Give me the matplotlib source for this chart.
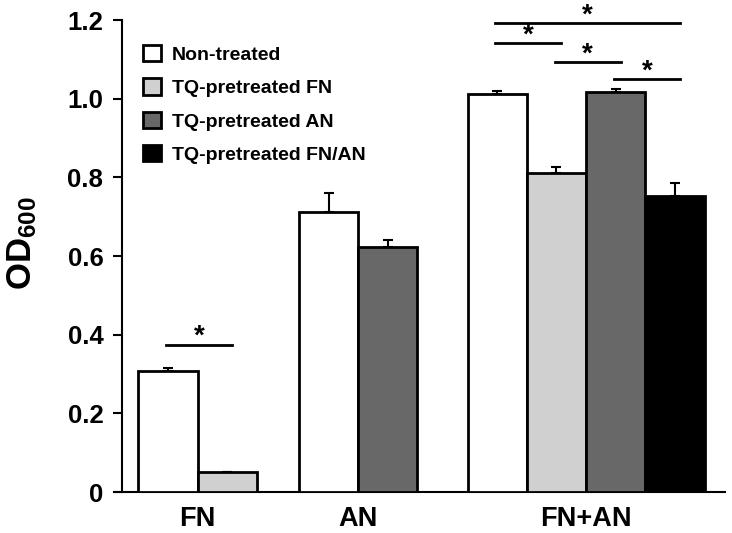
import matplotlib
matplotlib.use("Agg")
import matplotlib.pyplot as plt
from matplotlib.patches import Patch

plt.rcParams['font.family'] = ['Liberation Sans', 'DejaVu Sans']
plt.rcParams['font.weight'] = 'bold'
plt.rcParams['mathtext.fontset'] = 'custom'
plt.rcParams['mathtext.rm'] = 'Liberation Sans:bold'
plt.rcParams['mathtext.bf'] = 'Liberation Sans:bold'
plt.rcParams['mathtext.it'] = 'Liberation Sans:bold'

groups = ["FN", "AN", "FN+AN"]
seriesNames = ["Non-treated", "TQ-pretreated FN", "TQ-pretreated AN", "TQ-pretreated FN/AN"]
seriesColors = ["#ffffff", "#d0d0d0", "#686868", "#000000"]

# None = series not measured in that group
nonTreated = [0.308, 0.713, 1.013]
tqFN = [0.051, None, 0.811]
tqAN = [None, 0.624, 1.017]
tqFNAN = [None, None, 0.752]

nonTreatedErr = [0.007, 0.046, 0.006]
tqFNErr = [0.0, None, 0.015]
tqANErr = [None, 0.016, 0.007]
tqFNANErr = [None, None, 0.033]

# significance brackets: group, first series, second series, height
sigPairs = [
    (0, 0, 1, 0.375),
    (2, 0, 3, 1.193),
    (2, 0, 1, 1.142),
    (2, 1, 2, 1.094),
    (2, 2, 3, 1.049),
]

groupCenters = [1.278, 3.983, 7.828]
barWidth = 1.0

allValues = [nonTreated, tqFN, tqAN, tqFNAN]
allErrors = [nonTreatedErr, tqFNErr, tqANErr, tqFNANErr]

fig = plt.figure(figsize=(7.32, 5.33), dpi=100)
ax = fig.add_axes([114 / 732, 1 - 492 / 533, 611 / 732, 472 / 533])

# bar centre for each (group, series)
barX = {}
for g in range(len(groups)):
    present = [s for s in range(len(allValues)) if allValues[s][g] is not None]
    n = len(present)
    for k, s in enumerate(present):
        barX[(g, s)] = groupCenters[g] + (k - (n - 1) / 2) * barWidth

for s in range(len(allValues)):
    xs, hs, es = [], [], []
    for g in range(len(groups)):
        if allValues[s][g] is None:
            continue
        xs.append(barX[(g, s)])
        hs.append(allValues[s][g])
        es.append(allErrors[s][g])
    ax.bar(xs, hs, width=barWidth, color=seriesColors[s], edgecolor="black",
           linewidth=2, zorder=3)
    ax.errorbar(xs, hs, yerr=[[0] * len(es), es], fmt="none", ecolor="black",
                elinewidth=1.5, capsize=3.6, capthick=1.5, zorder=2)

for g, s1, s2, h in sigPairs:
    x1 = barX[(g, s1)] - 0.03
    x2 = barX[(g, s2)] + 0.08
    ax.plot([x1, x2], [h, h], color="black", linewidth=2, clip_on=False)
    ax.annotate("*", xy=((x1 + x2) / 2, h), xytext=(0, -4), textcoords="offset points",
                ha="center", va="bottom", fontsize=20, annotation_clip=False)

ax.set_xlim(-0.135, 10.17)
ax.set_ylim(0, 1.2)
ax.spines["left"].set_position(("data", 0))
ax.spines["left"].set_linewidth(1.5)
ax.spines["bottom"].set_linewidth(1.5)
ax.spines["top"].set_visible(False)
ax.spines["right"].set_visible(False)

ax.set_yticks([0, 0.2, 0.4, 0.6, 0.8, 1.0, 1.2])
ax.set_yticklabels(["0", "0.2", "0.4", "0.6", "0.8", "1.0", "1.2"])
ax.tick_params(axis="y", direction="out", length=6.5, width=1.5, pad=7, labelsize=18.5)
ax.set_xticks(groupCenters)
ax.set_xticklabels(groups)
ax.tick_params(axis="x", length=0, pad=10, labelsize=19.5)

fig.text(0.03, 0.545, r"OD$_{600}$", rotation=90, ha="center", va="center", fontsize=25)

handles = [Patch(facecolor=c, edgecolor="black", linewidth=2) for c in seriesColors]
ax.legend(handles, seriesNames, loc="upper left", bbox_to_anchor=(0.048, 0.947),
          frameon=False, fontsize=14, handlelength=0.9, handleheight=0.9,
          handletextpad=0.55, labelspacing=0.75, borderpad=0, borderaxespad=0)

fig.savefig("out.png", dpi=100)
